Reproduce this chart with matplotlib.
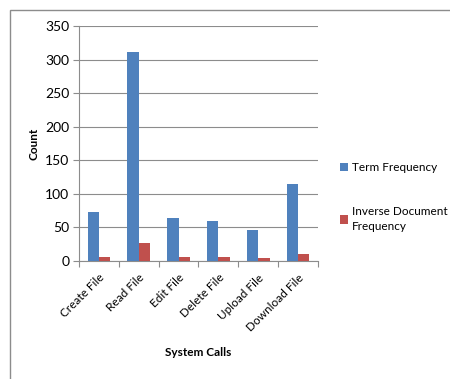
import matplotlib
matplotlib.use("Agg")
import matplotlib.pyplot as plt
from matplotlib.patches import Rectangle
import numpy as np

categories = ["Create File", "Read File", "Edit File", "Delete File", "Upload File", "Download File"]
term_freq = [73, 311, 64, 59, 46, 114]
idf = [6, 27, 6, 6, 4, 11]
series_names = ["Term Frequency", "Inverse Document\nFrequency"]
y_ticks = [0, 50, 100, 150, 200, 250, 300, 350]

plt.rcParams['font.family'] = ['Lato', 'DejaVu Sans']

fig = plt.figure(figsize=(4.5, 3.79), dpi=100)
ax = fig.add_axes([79/450, 1-261/379, (318-79)/450, (261-26)/379])

x = np.arange(len(categories))
w = 0.286
b1 = ax.bar(x - w/2, term_freq, width=w, color="#4F81BD", label=series_names[0], zorder=3)
b2 = ax.bar(x + w/2, idf, width=w, color="#C0504D", label=series_names[1], zorder=3)

ax.set_xlim(-0.5, len(categories) - 0.5)
ax.set_ylim(0, 350)
ax.set_yticks(y_ticks)
ax.set_yticklabels([str(v) for v in y_ticks], fontsize=10)
ax.yaxis.grid(True, color="#8C8C8C", linewidth=0.8, zorder=0)
ax.set_axisbelow(True)

ax.set_xticks(np.arange(-0.5, len(categories), 1.0), minor=False)
ax.set_xticklabels([])
ax.tick_params(axis='x', which='major', length=4, color="#8C8C8C", direction='out')
ax.set_xticks(x, minor=True)
ax.set_xticklabels(categories, minor=True, rotation=45, ha='right', rotation_mode='anchor', fontsize=8.5)
ax.tick_params(axis='x', which='minor', length=0, pad=8)
ax.tick_params(axis='y', length=4, color="#8C8C8C", direction='out', pad=3)

for s in ['top', 'right']:
    ax.spines[s].set_visible(False)
for s in ['left', 'bottom']:
    ax.spines[s].set_color("#8C8C8C")
    ax.spines[s].set_linewidth(0.8)

ax.set_ylabel("Count", fontsize=8.5, fontweight='bold', labelpad=4)
ax.set_xlabel("System Calls", fontsize=8.5, fontweight='bold', labelpad=10)

leg = fig.legend(handles=[b1, b2], loc='center left', bbox_to_anchor=(0.742, 0.48),
                 frameon=False, fontsize=8.5, handlelength=0.7, handleheight=0.7,
                 handletextpad=0.3, labelspacing=2.8, borderpad=0)
for t in leg.get_texts():
    t.set_linespacing(1.45)

fig.patches.append(Rectangle((10/450, -0.05), 1.0, 1 - 10/379 + 0.05,
                             transform=fig.transFigure, fill=False,
                             edgecolor="#8C8C8C", linewidth=1.0))

fig.savefig("out.png", dpi=100)
